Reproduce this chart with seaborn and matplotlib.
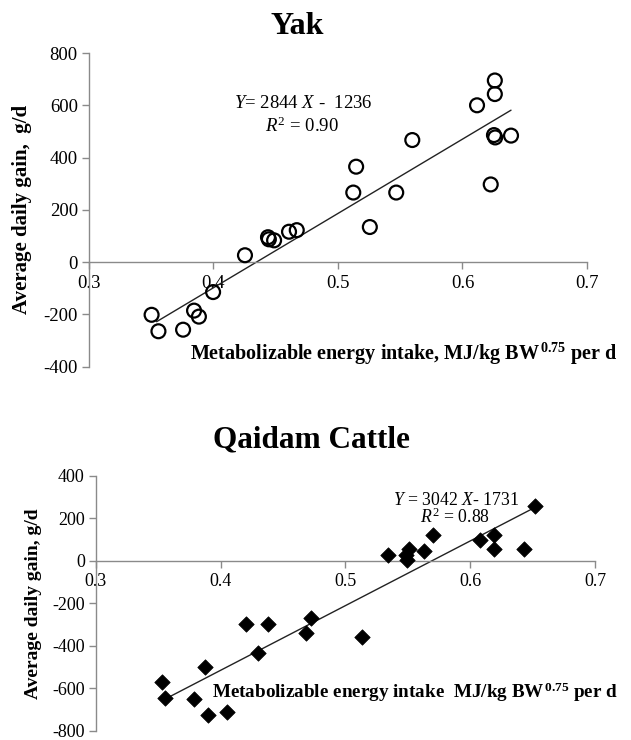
import numpy as np
import pandas as pd
import matplotlib
matplotlib.use("Agg")
import matplotlib.pyplot as plt
import seaborn as sns

# ---- data ----
yak_mei = [0.3503, 0.3558, 0.3756, 0.3844, 0.3883, 0.3997, 0.4253, 0.4438, 0.4445,
           0.4487, 0.4607, 0.4669, 0.5123, 0.5146, 0.5256, 0.5468, 0.5597, 0.6117,
           0.6227, 0.6260, 0.6260, 0.6253, 0.6263, 0.6390]
yak_adg = [-202, -265, -259, -186, -209, -115, 26, 95, 87,
           83, 116, 122, 266, 365, 134, 266, 467, 600,
           297, 695, 643, 486, 477, 484]
yak_slope, yak_intercept = 2844, -1236

cat_mei = [0.3527, 0.3556, 0.3783, 0.3899, 0.3870, 0.4051, 0.4206, 0.4300, 0.4378,
           0.4685, 0.4724, 0.5131, 0.5341, 0.5483, 0.5496, 0.5509, 0.5626, 0.5700,
           0.6078, 0.6188, 0.6188, 0.6434, 0.6518]
cat_adg = [-569, -646, -651, -725, -498, -713, -298, -431, -298,
           -337, -270, -356, 28, 27, 6, 58, 47, 123,
           97, 123, 55, 55, 259]
cat_slope, cat_intercept = 3042, -1731

x_ticks = [0.3, 0.4, 0.5, 0.6, 0.7]
x_tick_labels = ["0.3", "0.4", "0.5", "0.6", "0.7"]
yak_y_ticks = [-400, -200, 0, 200, 400, 600, 800]
cat_y_ticks = [-800, -600, -400, -200, 0, 200, 400]

sns.set_theme(style="white")
plt.rcParams["font.family"] = ["Liberation Serif", "DejaVu Serif"]
plt.rcParams["mathtext.fontset"] = "custom"
plt.rcParams["mathtext.rm"] = "Liberation Serif"
plt.rcParams["mathtext.it"] = "Liberation Serif:italic"
plt.rcParams["mathtext.bf"] = "Liberation Serif:bold"
plt.rcParams["axes.unicode_minus"] = False
plt.rcParams["text.color"] = "black"
plt.rcParams["axes.labelcolor"] = "black"

fig = plt.figure(figsize=(6.31, 7.40), dpi=100)
ax1 = fig.add_axes([0.1410, 0.5047, 0.7892, 0.4236])
ax2 = fig.add_axes([0.1521, 0.0122, 0.7908, 0.3446])

GRAY = "#8a8a8a"


def style_axis(ax, yticks, labelsize):
    ax.set_xlim(0.3, 0.7)
    ax.set_ylim(yticks[0], yticks[-1])
    ax.set_xticks(x_ticks)
    ax.set_xticklabels(x_tick_labels)
    ax.set_yticks(yticks)
    ax.set_yticklabels([str(v) for v in yticks])
    for s in ["top", "right"]:
        ax.spines[s].set_visible(False)
    ax.spines["bottom"].set_position(("data", 0))
    for s in ["left", "bottom"]:
        ax.spines[s].set_color(GRAY)
        ax.spines[s].set_linewidth(1.0)
    ax.tick_params(axis="both", which="major", length=5, width=1.0, color=GRAY,
                   labelsize=labelsize, labelcolor="black", direction="out")
    ax.tick_params(axis="x", pad=4, bottom=True)
    ax.tick_params(axis="y", pad=3, left=True)
    ax.set_xlabel("")
    ax.patch.set_alpha(0)


# ---- Yak ----
yak_df = pd.DataFrame({"mei": yak_mei, "adg": yak_adg})
xl = np.array([min(yak_mei) + 0.004, max(yak_mei)])
sns.lineplot(x=xl, y=yak_slope * xl + yak_intercept, ax=ax1, color="#222222", lw=1.0)
sns.scatterplot(data=yak_df, x="mei", y="adg", ax=ax1, marker="o", s=100,
                facecolor="none", edgecolor="black", linewidth=1.6, zorder=3)
style_axis(ax1, yak_y_ticks, 13.5)
ax1.set_ylabel("Average daily gain,  g/d", fontsize=15, fontweight="bold", color="black")
ax1.yaxis.set_label_coords(-0.1145, 0.5)
fig.text(0.480, 0.854, r"$\mathit{Y}$= 2844 $\mathit{X}$ -  1236",
         ha="center", va="baseline", fontsize=13.5, color="black")
fig.text(0.479, 0.8216, r"$\mathit{R}^{2}$ = 0.90",
         ha="center", va="baseline", fontsize=13.5, color="black")
fig.text(0.471, 0.954, "Yak", ha="center", va="baseline", fontsize=23, fontweight="bold",
         color="black")
fig.text(0.979, 0.5135, r"Metabolizable energy intake, MJ/kg BW$^{\,\mathbf{0.75}}$ per d",
         ha="right", va="baseline", fontsize=14.5, fontweight="bold", color="black")

# ---- Qaidam Cattle ----
cat_df = pd.DataFrame({"mei": cat_mei, "adg": cat_adg})
xl2 = np.array([min(cat_mei) + 0.005, max(cat_mei)])
sns.lineplot(x=xl2, y=cat_slope * xl2 + cat_intercept, ax=ax2, color="#222222", lw=1.0)
sns.scatterplot(data=cat_df, x="mei", y="adg", ax=ax2, marker="D", s=62,
                color="black", edgecolor="black", linewidth=0.5, zorder=3)
style_axis(ax2, cat_y_ticks, 13)
ax2.set_ylabel("Average daily gain, g/d", fontsize=14, fontweight="bold", color="black")
ax2.yaxis.set_label_coords(-0.108, 0.5)
fig.text(0.7227, 0.3176, r"$\mathit{Y}$ = 3042 $\mathit{X}$- 1731",
         ha="center", va="baseline", fontsize=12.8, color="black")
fig.text(0.721, 0.2932, r"$\mathit{R}^{2}$ = 0.88",
         ha="center", va="baseline", fontsize=12.8, color="black")
fig.text(0.494, 0.396, "Qaidam Cattle", ha="center", va="baseline", fontsize=22.5,
         fontweight="bold", color="black")
fig.text(0.336, 0.0568, r"Metabolizable energy intake  MJ/kg BW$^{\,\mathbf{0.75}}$ per d",
         ha="left", va="baseline", fontsize=13.8, fontweight="bold", color="black")

fig.savefig("out.png", dpi=100)
